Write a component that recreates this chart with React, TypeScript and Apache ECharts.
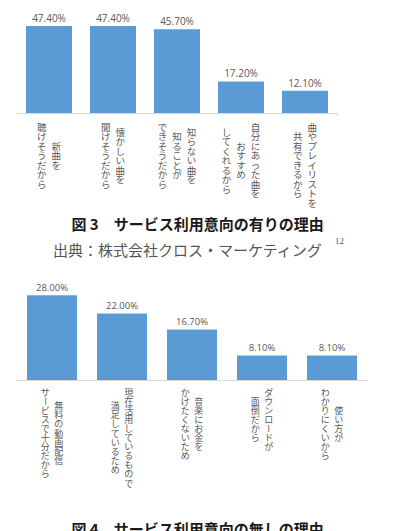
import React, { useEffect, useRef } from "react";
import * as echarts from "echarts";

// 図3: reasons for wanting to use the service (%)
const yesCategories = [
  "新曲を聴けそうだから",
  "懐かしい曲を聞けそうだから",
  "知らない曲を知ることができそうだから",
  "自分にあった曲をおすすめしてくれるから",
  "曲やプレイリストを共有できるから",
];
// vertical label columns, read right to left
const yesLabelColumns = [
  ["新曲を", "聴けそうだから"],
  ["懐かしい曲を", "聞けそうだから"],
  ["知らない曲を", "知ることが", "できそうだから"],
  ["自分にあった曲を", "おすすめ", "してくれるから"],
  ["曲やプレイリストを", "共有できるから"],
];
const yesValues = [47.4, 47.4, 45.7, 17.2, 12.1];

// 図4: reasons for not wanting to use the service (%)
const noCategories = [
  "無料の動画配信サービスで十分だから",
  "現在活用しているもので満足しているため",
  "音楽にお金をかけたくないため",
  "ダウンロードが面倒だから",
  "使い方がわかりにくいから",
];
const noLabelColumns = [
  ["無料の動画配信", "サービスで十分だから"],
  ["現在活用しているもので", "満足しているため"],
  ["音楽にお金を", "かけたくないため"],
  ["ダウンロードが", "面倒だから"],
  ["使い方が", "わかりにくいから"],
];
const noValues = [28.0, 22.0, 16.7, 8.1, 8.1];

const captionYes = "図 3　サービス利用意向の有りの理由";
const sourceText = "出典：株式会社クロス・マーケティング";
const sourceNote = "12";
const captionNo = "図 4　サービス利用意向の無しの理由";

const BAR_COLOR = "#5B9BD5";
const TEXT_GRAY = "#595959";
const CJK = '"Noto Sans CJK JP", "Noto Sans", sans-serif';
const LATIN = '"Open Sans", "Liberation Sans", sans-serif';

function barSeries(axisIndex: number, values: number[], barWidth: number, fontSize: number) {
  return {
    type: "bar",
    xAxisIndex: axisIndex,
    yAxisIndex: axisIndex,
    data: values,
    barWidth,
    itemStyle: { color: BAR_COLOR },
    label: {
      show: true,
      position: "top",
      distance: 3,
      formatter: (p: any) => Number(p.value).toFixed(2) + "%",
      color: TEXT_GRAY,
      fontSize,
      fontFamily: LATIN,
    },
  };
}

function categoryAxis(gridIndex: number, data: string[], ticks: boolean) {
  return {
    type: "category",
    gridIndex,
    data,
    axisLine: { show: true, lineStyle: { color: "#D9D9D9", width: 1 } },
    axisTick: { show: ticks, length: 3, lineStyle: { color: "#E3E3E3" } },
    axisLabel: { show: false },
    splitLine: { show: false },
  };
}

// Builds upright vertical (tategaki) labels under each category of a grid.
function verticalLabels(
  chart: echarts.ECharts,
  gridIndex: number,
  categories: string[],
  columns: string[][],
  cfg: { fontSize: number; lineH: number; colGap: number; topGap: number }
) {
  const els: any[] = [];
  categories.forEach((cat, i) => {
    const pt = chart.convertToPixel({ gridIndex }, [cat, 0]) as number[];
    const cx = pt[0];
    const blockTop = pt[1] + cfg.topGap;
    const cols = columns[i];
    const maxLen = Math.max(...cols.map((c) => Array.from(c).length));
    cols.forEach((col, ci) => {
      const chars = Array.from(col);
      const colX = cx + ((cols.length - 1) / 2 - ci) * cfg.colGap;
      const colTop = blockTop + ((maxLen - chars.length) * cfg.lineH) / 2;
      chars.forEach((ch, j) => {
        els.push({
          type: "text",
          silent: true,
          x: colX,
          y: colTop + j * cfg.lineH + cfg.lineH / 2,
          rotation: ch === "ー" ? -Math.PI / 2 : 0,
          style: {
            text: ch,
            fill: TEXT_GRAY,
            fontSize: cfg.fontSize,
            fontFamily: CJK,
            align: "center",
            verticalAlign: "middle",
          },
        });
      });
    });
  });
  return els;
}

export default function App() {
  const ref = useRef<HTMLDivElement>(null);

  useEffect(() => {
    if (!ref.current) return;
    const chart = echarts.init(ref.current, undefined, { renderer: "svg" });

    chart.setOption({
      animation: false,
      backgroundColor: "#ffffff",
      grid: [
        { left: 17, width: 320, top: 21.25, height: 91.75 },
        { left: 17, width: 350, top: 289.25, height: 90.75 },
      ],
      xAxis: [categoryAxis(0, yesCategories, true), categoryAxis(1, noCategories, false)],
      yAxis: [
        { type: "value", gridIndex: 0, min: 0, max: 50, show: false, splitLine: { show: false } },
        { type: "value", gridIndex: 1, min: 0, max: 30, show: false, splitLine: { show: false } },
      ],
      series: [barSeries(0, yesValues, 46, 10), barSeries(1, noValues, 50, 9.5)],
    });

    const labelEls = [
      ...verticalLabels(chart, 0, yesCategories, yesLabelColumns, {
        fontSize: 9.5,
        lineH: 9.5,
        colGap: 14.5,
        topGap: 9,
      }),
      ...verticalLabels(chart, 1, noCategories, noLabelColumns, {
        fontSize: 9,
        lineH: 9.1,
        colGap: 13.5,
        topGap: 7.5,
      }),
    ];

    const captions = [
      {
        type: "text",
        silent: true,
        x: 197.5,
        y: 223,
        style: {
          text: captionYes,
          fill: "#1a1a1a",
          fontSize: 15,
          fontWeight: "bold",
          fontFamily: CJK,
          align: "center",
          verticalAlign: "middle",
        },
      },
      {
        type: "text",
        silent: true,
        x: 53,
        y: 249,
        style: {
          text: sourceText,
          fill: "#555555",
          fontSize: 15,
          fontFamily: CJK,
          align: "left",
          verticalAlign: "middle",
        },
      },
      {
        type: "text",
        silent: true,
        x: 335,
        y: 241,
        style: {
          text: sourceNote,
          fill: "#555555",
          fontSize: 9,
          fontFamily: '"Liberation Serif", serif',
          align: "left",
          verticalAlign: "middle",
        },
      },
      {
        type: "text",
        silent: true,
        x: 197.5,
        y: 528.5,
        style: {
          text: captionNo,
          fill: "#1a1a1a",
          fontSize: 15,
          fontWeight: "bold",
          fontFamily: CJK,
          align: "center",
          verticalAlign: "middle",
        },
      },
    ];

    chart.setOption({ graphic: [...labelEls, ...captions] });

    return () => chart.dispose();
  }, []);

  return (
    <div
      ref={ref}
      style={{ position: "absolute", left: 0, top: 0, width: 409, height: 531, background: "#fff" }}
    />
  );
}
